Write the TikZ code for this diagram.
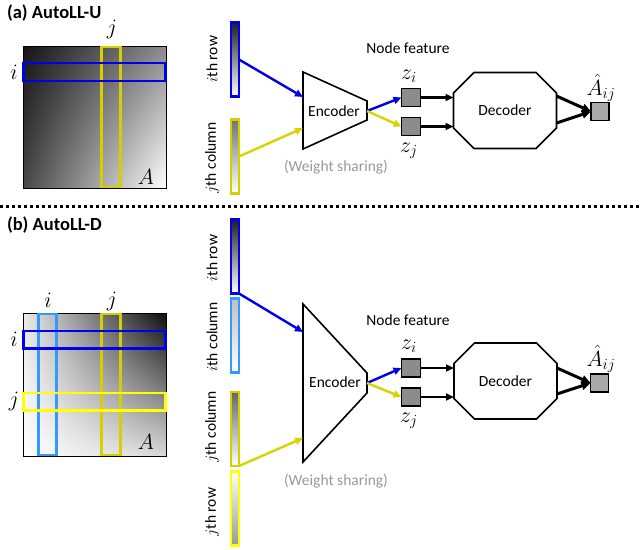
\documentclass[tikz,border=0pt]{standalone}
\usepackage{fix-cm}
\usepackage{fontspec}
\setmainfont{Carlito}
\usetikzlibrary{arrows.meta,shapes.misc,shadings}
\definecolor{cblue}{RGB}{0,0,235}
\definecolor{clblue}{RGB}{51,153,255}
\definecolor{colive}{RGB}{212,208,0}
\definecolor{cyellow}{RGB}{255,255,0}
\definecolor{carrowy}{RGB}{216,212,0}
\definecolor{zgray}{RGB}{140,140,140}
\definecolor{agray}{RGB}{170,170,170}
\begin{document}
\begin{tikzpicture}[x=1pt,y=-1pt,
  every node/.style={font=\fontsize{15.5}{18}\selectfont, inner sep=0pt, outer sep=0pt},
  title/.style={font=\fontsize{18.5}{21}\selectfont\bfseries, anchor=west},
  mlabel/.style={font=\fontsize{22}{25}\selectfont},
  vec/.style={draw, line width=2.5pt, minimum width=8pt, minimum height=74pt},
  rlabel/.style={rotate=90},
  hl/.style={line width=2.8pt},
  zbox/.style={draw=black, line width=1.4pt, fill=zgray, minimum width=19pt, minimum height=18pt},
  abox/.style={draw=black, line width=1.4pt, fill=agray, minimum width=18pt, minimum height=18pt},
  encshape/.style={draw=black, line width=1.6pt, fill=white, line join=miter},
  decshape/.style={draw=black, line width=1.6pt, chamfered rectangle, chamfered rectangle xsep=15pt, chamfered rectangle ysep=15pt, minimum width=103pt, minimum height=76pt},
  carr/.style={line width=2.4pt, -{Triangle[length=8pt,width=7pt]}},
  karr/.style={line width=2.4pt, black, -{Triangle[length=8pt,width=7pt]}},
  tarr/.style={line width=3pt, black, -{Triangle[length=9pt,width=8pt]}},
  wsh/.style={text=black!40}
]
\useasboundingbox (0,0) rectangle (640,549);

% ================= (a) =================
\node[title] (ta) at (7,13) {(a) AutoLL-U};

% matrix A
\shade[upper left=black!92, upper right=black!45, lower left=black!72, lower right=white]
  (23,46) rectangle (166,188);
\draw[line width=0.8pt] (23,46) rectangle (166,188);
\draw[hl, colive] (101.5,47) rectangle (120.5,187);
\draw[hl, cblue] (23.5,63) rectangle (165.5,81);
\node[mlabel] (ja) at (112,29) {$j$};
\node[mlabel] (ia) at (14,72) {$i$};
\node[mlabel] (Aa) at (146,177) {$A$};

% vectors
\node[vec, draw=cblue, top color=black!88, bottom color=white] (ra) at (235,59.5) {};
\node[vec, draw=colive, top color=black!55, bottom color=white] (ca) at (235,156.5) {};
\node[rlabel] (lra) at (212,59) {$i$th row};
\node[rlabel] (lca) at (212,158) {$j$th column};

% encoder
\coordinate (eaTL) at (303,72);
\coordinate (eaBL) at (303,149);
\coordinate (eaTR) at (367,101);
\coordinate (eaBR) at (367,120);
\draw[encshape] (eaTL) -- (eaTR) -- (eaBR) -- (eaBL) -- cycle;
\node (enca) at (334,111) {Encoder};
\coordinate (eaInA) at (303,97);
\coordinate (eaInB) at (303,128);
\coordinate (eaOut) at (367,111);
\node[wsh] (wsa) at (336,167) {(Weight sharing)};
\node (nfa) at (408,48) {Node feature};

% z boxes
\node[zbox] (zia) at (411,97.5) {};
\node[zbox] (zja) at (411,126.5) {};
\node[mlabel] (lzia) at (409,76) {$z_i$};
\node[mlabel] (lzja) at (409,151) {$z_j$};

% decoder
\node[decshape] (deca) at (505,110.5) {Decoder};
\node[abox] (aha) at (600,111.5) {};
\node[mlabel, anchor=south] (laha) at (601,101.5) {$\hat{A}_{ij}$};

% arrows
\draw[carr, cblue] (ra.east) -- (eaInA);
\draw[carr, carrowy] (ca.east) -- (eaInB);
\draw[carr, cblue] (eaOut) -- (zia.west);
\draw[carr, carrowy] (eaOut) -- (zja.west);
\draw[karr] (zia.east) -- (zia.east -| deca.west);
\draw[karr] (zja.east) -- (zja.east -| deca.west);
\draw[tarr] ([yshift=-12.5pt]deca.east) -- (aha.west);
\draw[tarr] ([yshift=14.5pt]deca.east) -- (aha.west);

% separator
\draw[line width=3pt, dash pattern=on 3pt off 3pt] (0,206) -- (640,206);

% ================= (b) =================
\node[title] (tb) at (7,225) {(b) AutoLL-D};

% matrix A
\shade[upper left=black!8, upper right=black!95, lower left=white, lower right=black!15]
  (23,313) rectangle (166,456);
\draw[line width=0.8pt] (23,313) rectangle (166,456);
\draw[hl, clblue] (38.5,314) rectangle (56.5,455);
\draw[hl, colive] (101.5,314) rectangle (120.5,455);
\draw[hl, cblue] (23.5,331) rectangle (165.5,348.5);
\draw[hl, cyellow] (23.5,393) rectangle (165.5,410.5);
\node[mlabel] (ib1) at (48,300) {$i$};
\node[mlabel] (jb1) at (112,301) {$j$};
\node[mlabel] (ib2) at (14,339) {$i$};
\node[mlabel] (jb2) at (14,401) {$j$};
\node[mlabel] (Ab) at (146,442) {$A$};

% vectors
\node[vec, draw=cblue, top color=black!88, bottom color=white] (rb) at (235,256.5) {};
\node[vec, draw=clblue, top color=black!25, bottom color=white] (cib) at (235,335.5) {};
\node[vec, draw=colive, top color=black!60, bottom color=white] (cjb) at (235,429) {};
\node[vec, draw=cyellow, top color=white, bottom color=black!40] (rjb) at (235,508.5) {};
\node[rlabel] (lrb) at (212,258) {$i$th row};
\node[rlabel] (lcib) at (212,337) {$i$th column};
\node[rlabel] (lcjb) at (212,427) {$j$th column};
\node[rlabel] (lrjb) at (212,512) {$j$th row};

% encoder
\coordinate (ebTL) at (303,304);
\coordinate (ebBL) at (303,462);
\coordinate (ebTR) at (367,373);
\coordinate (ebBR) at (367,393);
\draw[encshape] (ebTL) -- (ebTR) -- (ebBR) -- (ebBL) -- cycle;
\node (encb) at (335,382) {Encoder};
\coordinate (ebInA) at (303,332);
\coordinate (ebInB) at (303,438);
\coordinate (ebOut) at (367,383);
\node[wsh] (wsb) at (336,481) {(Weight sharing)};
\node (nfb) at (408,320) {Node feature};

% z boxes
\node[zbox] (zib) at (411,368) {};
\node[zbox] (zjb) at (411,397) {};
\node[mlabel] (lzib) at (409,346) {$z_i$};
\node[mlabel] (lzjb) at (409,421) {$z_j$};

% decoder
\node[decshape] (decb) at (505.5,381) {Decoder};
\node[abox] (ahb) at (599.5,383) {};
\node[mlabel, anchor=south] (lahb) at (601,372.5) {$\hat{A}_{ij}$};

% arrows
\draw[carr, cblue] (rb.south east) -- (ebInA);
\draw[carr, carrowy] (cjb.south east) -- (ebInB);
\draw[carr, cblue] (ebOut) -- (zib.west);
\draw[carr, carrowy] (ebOut) -- (zjb.west);
\draw[karr] (zib.east) -- (zib.east -| decb.west);
\draw[karr] (zjb.east) -- (zjb.east -| decb.west);
\draw[tarr] ([yshift=-13pt]decb.east) -- (ahb.west);
\draw[tarr] ([yshift=13pt]decb.east) -- (ahb.west);
\end{tikzpicture}
\end{document}
